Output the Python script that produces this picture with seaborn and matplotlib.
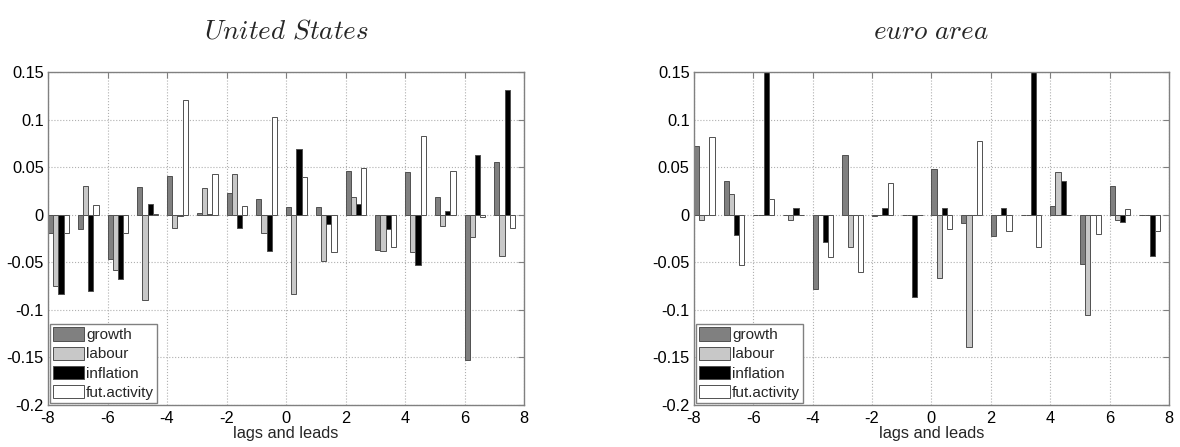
import numpy as np
import pandas as pd
import matplotlib
matplotlib.use("Agg")
import matplotlib.pyplot as plt
import seaborn as sns

# lags/leads (each group starts at the lag value)
lags = list(range(-8, 8))
series = ['growth', 'labour', 'inflation', 'fut.activity']

# United States
us_growth = [-0.019, -0.0155, -0.0465, 0.029, 0.041, 0.002, 0.0225, 0.016,
             0.0077, 0.0077, 0.0458, -0.0366, 0.0444, 0.0183, -0.1525, 0.0556]
us_labour = [-0.0747, 0.0306, -0.0578, -0.0898, -0.0137, 0.0278, 0.0423, -0.019,
             -0.0838, -0.0483, 0.0183, -0.038, -0.039, -0.0116, -0.0232, -0.0433]
us_inflation = [-0.0838, -0.0807, -0.0676, 0.0116, -0.001, 0.0007, -0.0141, -0.038,
                0.0687, -0.0102, 0.0113, -0.0155, -0.0532, 0.0039, 0.0623, 0.131]
us_fut = [-0.019, 0.0106, -0.019, 0.0007, 0.121, 0.0423, 0.0088, 0.103,
          0.0401, -0.039, 0.0486, -0.0335, 0.0824, 0.0454, -0.0028, -0.0144]

# euro area
ea_growth = [0.0722, 0.0352, 0.0, 0.0, -0.0782, 0.0627, -0.0014, 0.0,
             0.0479, -0.0088, -0.0229, 0.0, 0.0088, -0.0518, 0.0299, 0.0]
ea_labour = [-0.0056, 0.0222, 0.0, -0.0056, 0.0, -0.0338, 0.0, 0.0,
             -0.0666, -0.1388, 0.0, 0.0, 0.0444, -0.1056, -0.0056, 0.0]
ea_inflation = [0.0, -0.0215, 0.2, 0.0074, -0.0289, 0.0, 0.0074, -0.0863,
                0.0074, 0.0, 0.0074, 0.2, 0.0356, 0.0, -0.0074, -0.043]
ea_fut = [0.0817, -0.0528, 0.0169, 0.0, -0.044, -0.0602, 0.0331, 0.0,
          -0.0148, 0.0775, -0.0169, -0.0338, 0.0, -0.0208, 0.0063, -0.0169]

colors = ['#808080', '#c8c8c8', '#000000', '#ffffff']


def make_df(cols):
    rows = []
    for name, vals in zip(series, cols):
        for lag, v in zip(lags, vals):
            rows.append({'x': lag + 0.35, 'value': v, 'series': name})
    return pd.DataFrame(rows)


sns.set_style("white")
plt.rcParams['font.family'] = ['Liberation Sans', 'DejaVu Sans']
plt.rcParams['mathtext.fontset'] = 'cm'

fig = plt.figure(figsize=(11.8, 4.47), dpi=100)
ax1 = fig.add_axes([0.0407, 0.094, 0.4034, 0.745])
ax2 = fig.add_axes([0.588, 0.094, 0.4027, 0.745])

panels = [(ax1, [us_growth, us_labour, us_inflation, us_fut], r'$\mathit{United\ States}$'),
          (ax2, [ea_growth, ea_labour, ea_inflation, ea_fut], r'$\mathit{euro\ area}$')]

for ax, cols, title in panels:
    df = make_df(cols)
    sns.barplot(data=df, x='x', y='value', hue='series', hue_order=series,
                palette=colors, native_scale=True, width=0.7, gap=0,
                edgecolor='#505050', linewidth=0.7, errorbar=None, ax=ax,
                saturation=1)
    ax.set_xlim(-8, 8)
    ax.set_ylim(-0.2, 0.15)
    ax.set_xticks(np.arange(-8, 9, 2))
    ax.set_yticks([-0.2, -0.15, -0.1, -0.05, 0, 0.05, 0.1, 0.15])
    ax.set_yticklabels(['-0.2', '-0.15', '-0.1', '-0.05', '0', '0.05', '0.1', '0.15'])
    ax.set_xticklabels([str(t) for t in range(-8, 9, 2)])
    ax.grid(True, linestyle=':', color='#b0b0b0', linewidth=0.8)
    ax.set_axisbelow(True)
    ax.tick_params(direction='in', top=True, right=True, length=4,
                   color='#808080', labelsize=11.8, labelcolor='black')
    ax.tick_params(axis='x', pad=4)
    ax.tick_params(axis='y', pad=3)
    for s in ax.spines.values():
        s.set_color('#808080')
        s.set_linewidth(1.0)
    ax.set_xlabel('lags and leads', fontsize=11.8, labelpad=0)
    ax.set_ylabel('')
    ax.set_title(title, fontsize=19.5, pad=24)
    ax.legend(loc='lower left', fontsize=11, frameon=True, fancybox=False,
              edgecolor='#808080', borderpad=0.2, labelspacing=0.28,
              handlelength=2.0, handleheight=0.95, handletextpad=0.15,
              borderaxespad=0.15, framealpha=1)

fig.savefig('out.png', dpi=100)
